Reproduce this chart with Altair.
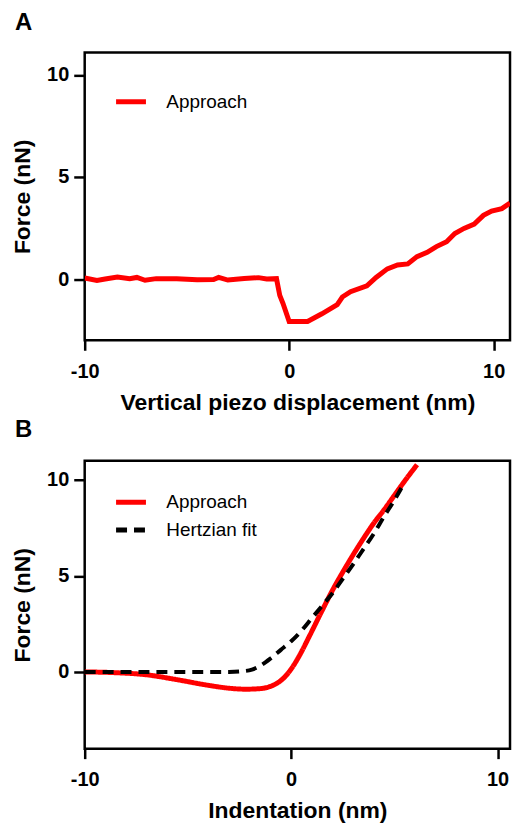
import altair as alt
import pandas as pd

FONT = "Liberation Sans"

# Panel A: approach curve vs vertical piezo displacement
a_disp = [-10.0, -9.4, -9.0, -8.4, -7.8, -7.45, -7.05, -6.5, -5.5, -4.5, -3.7, -3.45,
          -3.0, -2.2, -1.5, -1.1, -0.62, -0.46, -0.3, 0.0, 0.9, 1.6, 2.35, 2.6, 3.0,
          3.8, 4.25, 4.8, 5.3, 5.8, 6.25, 6.75, 7.2, 7.7, 8.1, 8.55, 9.05, 9.5, 9.9,
          10.4, 10.8]
a_force = [0.05, -0.07, 0.0, 0.1, 0.02, 0.08, -0.06, 0.02, 0.02, -0.03, -0.02, 0.08,
           -0.05, 0.03, 0.07, 0.0, 0.02, -0.8, -1.2, -2.08, -2.08, -1.7, -1.25, -0.88,
           -0.62, -0.33, 0.08, 0.5, 0.69, 0.74, 1.1, 1.31, 1.59, 1.83, 2.23, 2.48, 2.69,
           3.12, 3.33, 3.45, 3.72]

# Panel B: approach curve and Hertzian fit vs indentation
b_app_ind = [-10.0, -8.5, -7.0, -5.5, -4.0, -3.0, -2.2, -1.5, -1.0, -0.6, -0.3, 0.0,
             0.4, 0.9, 1.5, 2.0, 2.5, 3.0, 3.5, 4.0, 4.5, 5.0, 5.5, 6.1]
b_app_force = [0.0, -0.04, -0.15, -0.41, -0.7, -0.85, -0.9, -0.87, -0.75, -0.53, -0.25,
               0.15, 0.85, 1.9, 3.2, 4.25, 5.2, 6.1, 6.95, 7.75, 8.45, 9.2, 9.95, 10.8]
b_fit_ind = [-10.0, -6.0, -3.0, -2.4, -1.9, -1.5, -1.0, -0.5, 0.0, 0.5, 1.0, 1.5, 2.0,
             2.5, 3.0, 3.5, 4.0, 4.5, 5.0, 5.4]
b_fit_force = [0.0, 0.0, 0.0, 0.03, 0.12, 0.32, 0.7, 1.15, 1.6, 2.15, 2.8, 3.45, 4.1,
               4.85, 5.6, 6.4, 7.2, 8.1, 8.95, 9.7]

series_names = ["Approach", "Hertzian fit"]
series_colors = ["#ff0000", "#000000"]
series_dashes = [[1, 0], [11, 7]]

df_a = pd.DataFrame({"x": a_disp, "y": a_force, "series": series_names[0]})
df_b_app = pd.DataFrame({"x": b_app_ind, "y": b_app_force, "series": series_names[0]})
df_b_fit = pd.DataFrame({"x": b_fit_ind, "y": b_fit_force, "series": series_names[1]})

PLOT_W = 427
PLOT_H = 289


def x_axis(title):
    return alt.Axis(title=title, values=[-10, 0, 10], labelExpr="'' + datum.value",
                    tickSize=10, tickWidth=2.5, tickColor="black", domain=False,
                    grid=False, labelFlush=False, labelFont=FONT, labelFontSize=20,
                    labelFontWeight="bold", labelColor="black", labelPadding=11,
                    titleFont=FONT, titleFontSize=23, titleFontWeight="bold",
                    titleColor="black", titlePadding=10)


def y_axis():
    return alt.Axis(title="Force (nN)", values=[0, 5, 10], labelExpr="'' + datum.value",
                    tickSize=11, tickWidth=2.5, tickColor="black", domain=False,
                    grid=False, labelFlush=False, labelFont=FONT, labelFontSize=20,
                    labelFontWeight="bold", labelColor="black", labelPadding=5,
                    titleFont=FONT, titleFontSize=23, titleFontWeight="bold",
                    titleColor="black", titlePadding=12)


def legend(ly):
    return alt.Legend(title=None, orient="none", legendX=29, legendY=ly,
                      symbolType="stroke", symbolSize=900, symbolStrokeWidth=5,
                      labelFont=FONT, labelFontSize=19, labelColor="black",
                      labelOffset=18, rowPadding=0, padding=0)


def panel_title(t, off):
    return alt.TitleParams(text=t, anchor="start", frame="group", dx=-70, offset=off,
                           font=FONT, fontSize=24, fontWeight="bold", color="black")


# Panel A
xa = alt.X("x:Q", axis=x_axis("Vertical piezo displacement (nm)"),
           scale=alt.Scale(domain=[-10, 10.8], nice=False, zero=False))
ya = alt.Y("y:Q", axis=y_axis(), scale=alt.Scale(domain=[-3, 11.1], nice=False, zero=False))
chart_a = alt.Chart(df_a).mark_line(strokeWidth=5, clip=True).encode(
    x=xa, y=ya,
    color=alt.Color("series:N", scale=alt.Scale(domain=series_names[:1], range=series_colors[:1]),
                    legend=legend(32)),
).properties(width=PLOT_W, height=PLOT_H, title=panel_title("A", 17.5))

# Panel B
xb = alt.X("x:Q", axis=x_axis("Indentation (nm)"),
           scale=alt.Scale(domain=[-10, 10.6], nice=False, zero=False))
yb = alt.Y("y:Q", axis=y_axis(), scale=alt.Scale(domain=[-4, 11], nice=False, zero=False))
color_b = alt.Color("series:N", scale=alt.Scale(domain=series_names, range=series_colors),
                    legend=legend(24))
dash_b = alt.StrokeDash("series:N", scale=alt.Scale(domain=series_names, range=series_dashes),
                        legend=legend(24))
line_app = alt.Chart(df_b_app).mark_line(strokeWidth=5, interpolate="monotone", clip=True).encode(
    x=xb, y=yb, color=color_b, strokeDash=dash_b)
line_fit = alt.Chart(df_b_fit).mark_line(strokeWidth=4, interpolate="monotone", clip=True).encode(
    x=xb, y=yb, color=color_b, strokeDash=dash_b)
chart_b = alt.layer(line_app, line_fit).properties(width=PLOT_W, height=PLOT_H,
                                                   title=panel_title("B", 19))

chart = alt.vconcat(chart_a, chart_b, spacing=0).resolve_scale(
    color="independent", strokeDash="independent", x="independent", y="independent"
).resolve_legend(color="independent", strokeDash="independent").properties(
    padding={"left": 2, "top": 0, "right": 0, "bottom": 0}
).configure(background="white").configure_view(stroke="black", strokeWidth=2.5)

chart.save("out.html", embed_options={"renderer": "svg", "actions": False})
